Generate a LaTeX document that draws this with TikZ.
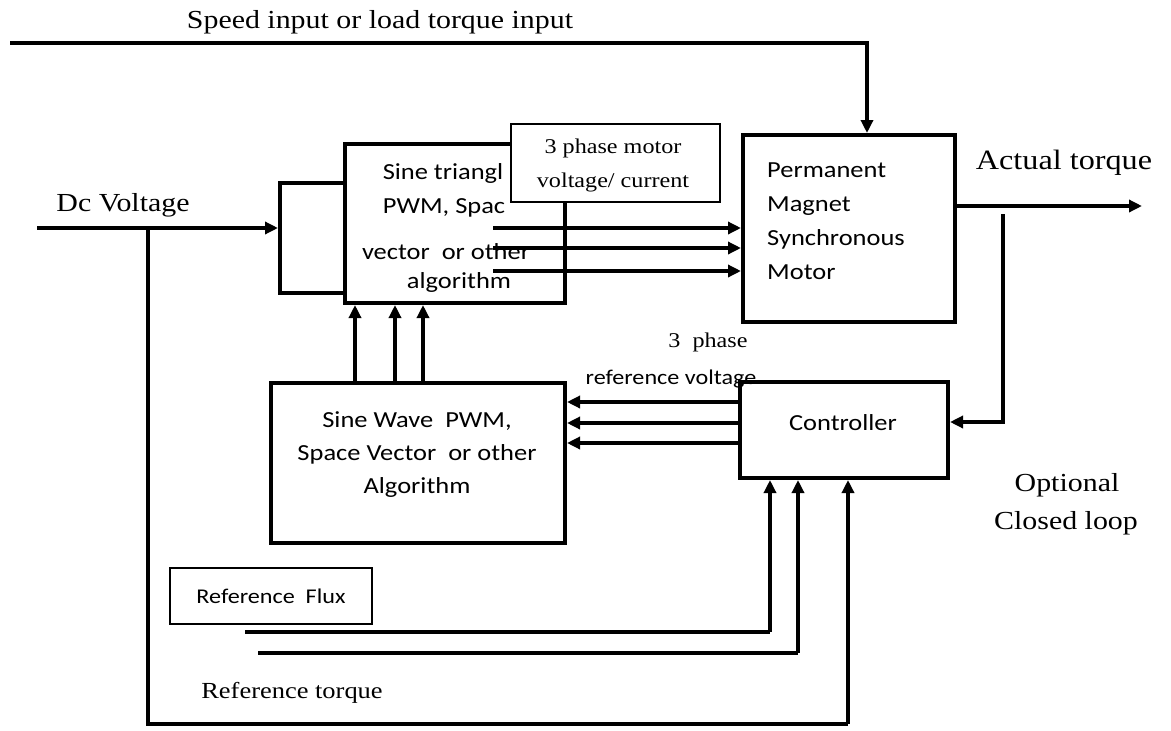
\documentclass[tikz,border=0pt]{standalone}
\usepackage{fontspec}
\setmainfont{Liberation Serif}
\newfontfamily\srfw[FakeStretch=1.15]{Liberation Serif}
\newfontfamily\calw[FakeStretch=1.15]{Carlito}
\usetikzlibrary{arrows.meta}
\begin{document}
\begin{tikzpicture}[x=1pt,y=-1pt,
  blk/.style={draw, line width=4pt, inner sep=0pt, fill=white},
  lbl/.style={draw, line width=1.8pt, fill=white, inner sep=0pt},
  ln/.style={line width=4pt},
  arr/.style={line width=4pt, -{Triangle[length=13pt,width=12pt]}},
  serif/.style={inner sep=0pt, font=\srfw\fontsize{#1}{#1}\selectfont},
  sans/.style={inner sep=0pt, font=\calw\fontsize{#1}{#1}\selectfont}]
\useasboundingbox (0,0) rectangle (1171,731);

% blocks
\node[blk, minimum width=65pt, minimum height=110pt] (sb) at (312.5,238) {};
\node[blk, minimum width=220pt, minimum height=159pt] (inv) at (455,223.5) {};
\node[blk, minimum width=212pt, minimum height=187pt] (pmsm) at (849,228.5) {};
\node[blk, minimum width=208pt, minimum height=96pt] (ctrl) at (844,430) {};
\node[blk, minimum width=294pt, minimum height=160pt] (sine) at (418,463) {};
\node[lbl, minimum width=209pt, minimum height=78pt] (mvlbl) at (615.5,163) {};
\node[lbl, minimum width=202pt, minimum height=56pt] (flux) at (271,596) {};

% texts
\node[serif=26] (speedtxt) at (380,22) {Speed input or load torque input};
\node[serif=26] (dctxt) at (123,205) {Dc Voltage};
\node[serif=28] (acttxt) at (1064,163) {Actual torque};
\node[serif=21] (mv1) at (613,148) {3 phase motor};
\node[serif=21] (mv2) at (613,182) {voltage/ current};
\node[sans=23] (inv1) at (443,173) {Sine triangl};
\node[sans=23] (inv2) at (444,208) {PWM, Spac};
\node[sans=23] (inv3) at (446,252) {vector\ \ or other};
\node[sans=23] (inv4) at (459,282) {algorithm};
\node[sans=23, anchor=west, align=left, font=\calw\fontsize{23}{34}\selectfont] (pmsmtxt) at (767,221) {Permanent\\Magnet\\Synchronous\\Motor};
\node[sans=23, align=center, font=\calw\fontsize{23}{33}\selectfont] (sinetxt) at (417,455) {Sine Wave\ \ PWM,\\Space Vector\ \ or other\\Algorithm};
\node[sans=23] (ctrltxt) at (843,423) {Controller};
\node[serif=21] (ph3) at (708,342) {3\ \ phase};
\node[sans=21] (refv) at (671,379) {reference voltage};
\node[sans=21] (fluxtxt) at (flux) {Reference\ \ Flux};
\node[serif=23] (reftq) at (292,693) {Reference torque};
\node[serif=26] (opt1) at (1067,485) {Optional};
\node[serif=26] (opt2) at (1066,523) {Closed loop};

% coordinates
\coordinate (spd) at (10,43);
\coordinate (spdc) at (867,43);
\coordinate (dc) at (37,228);
\coordinate (dcb) at (148,228);
\coordinate (dcbot) at (148,724);
\coordinate (dcc) at (848,724);
\coordinate (tq) at (1142,206);
\coordinate (fb) at (1003,214);
\coordinate (fbc) at (1003,422);
\coordinate (f1) at (245,632);
\coordinate (f1c) at (770,632);
\coordinate (f2) at (258,653);
\coordinate (f2c) at (798,653);
\coordinate (p1) at (493,228);
\coordinate (p2) at (493,248);
\coordinate (p3) at (493,271);

% connectors
\draw[arr] (spd) -- (spdc) -- (spdc |- pmsm.north);
\draw[arr] (dc) -- (sb.west |- dc);
\draw[ln] (dcb) -- (dcbot) -- (dcc);
\draw[arr] (dcc) -- (dcc |- ctrl.south);
\draw[arr] (pmsm.east |- tq) -- (tq);
\draw[arr] (fb) -- (fbc) -- (ctrl.east |- fbc);
\draw[arr] (p1) -- (pmsm.west |- p1);
\draw[arr] (p2) -- (pmsm.west |- p2);
\draw[arr] (p3) -- (pmsm.west |- p3);
\foreach \yy in {402,423,443}
  \draw[arr] (ctrl.west |- 0,\yy) -- (sine.east |- 0,\yy);
\foreach \xx in {355,395,423}
  \draw[arr] (\xx,0 |- sine.north) -- (\xx,0 |- inv.south);
\draw[ln] (f1) -- (f1c);
\draw[arr] (f1c) -- (f1c |- ctrl.south);
\draw[ln] (f2) -- (f2c);
\draw[arr] (f2c) -- (f2c |- ctrl.south);
\end{tikzpicture}
\end{document}
